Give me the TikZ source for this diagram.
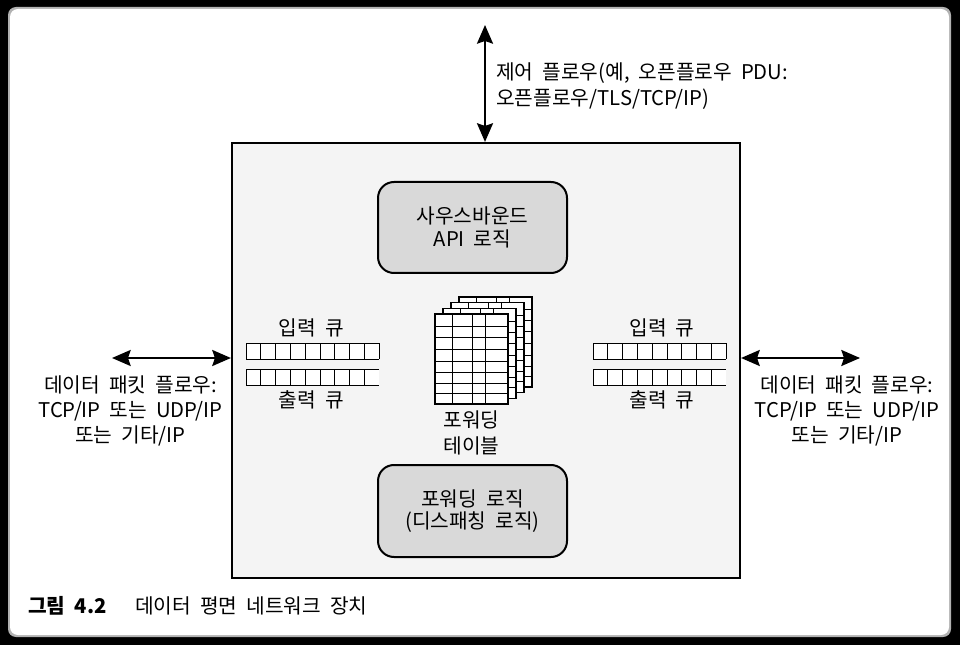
\documentclass[tikz,border=0pt]{standalone}
\usepackage{fontspec}
\setmainfont[WordSpace=2.0]{Noto Sans CJK KR}
\usetikzlibrary{arrows.meta,calc}
\definecolor{boxgray}{HTML}{D9D9D9}
\definecolor{panelgray}{HTML}{F4F4F4}
\begin{document}
\begin{tikzpicture}[x=0.75pt,y=-0.75pt,
  txt/.style={font=\fontsize{15.2}{19}\selectfont, align=center, inner sep=0pt},
  logicbox/.style={draw=black, line width=1.5pt, fill=boxgray, rounded corners=12pt,
     minimum width=141.75pt, txt, font=\fontsize{15.2}{17}\selectfont},
  flow/.style={{Stealth[length=14pt,width=12pt,inset=2pt]}-{Stealth[length=14pt,width=12pt,inset=2pt]}, line width=1.6pt},
  grid/.style={draw=black, line width=0.7pt}
]
% background / panel
\fill[black] (0,0) rectangle (960,645);
\fill[white!70!black, rounded corners=6pt] (8,7) rectangle (951,637);
\fill[white, rounded corners=6pt] (10,9) rectangle (949,635);
\useasboundingbox (0,0) rectangle (960,645);

% main device box
\node (main) [draw=black, line width=1.6pt, fill=panelgray, minimum width=381pt, minimum height=326.25pt, inner sep=0pt] at (486,360.5) {};

% logic boxes
\node (api) [logicbox, minimum height=68.25pt] at (472.5,227.5) {사우스바운드\\API 로직};
\node (fwd) [logicbox, minimum height=69pt] at (472.5,511) {포워딩 로직\\(디스패칭 로직)};

% queues
\newcommand{\qrow}[4]{% x0, y0, closed(1/0), name
  \fill[white] (#1,#2) rectangle (#1+133.2,#2+16);
  \foreach \i in {0,...,8} {
    \pgfmathsetmacro{\xa}{#1+\i*14.8}
    \pgfmathsetmacro{\xb}{#1+(\i+1)*14.8}
    \draw[line width=0.6pt] (\xa,#2) -- (\xb,#2);
    \draw[line width=0.6pt] (\xa,#2+16) -- (\xb,#2+16);
    \draw[line width=0.6pt] (\xa,#2) -- (\xa,#2+16);
  }
  \ifnum#3=1 \draw[line width=0.6pt] (#1+133.2,#2) -- (#1+133.2,#2+16);\fi
  \coordinate (#4) at (#1+66.6,#2+8);
}
\qrow{246}{343}{1}{lin}
\qrow{246}{369}{0}{lout}
\qrow{593}{343}{1}{rin}
\qrow{593}{369}{0}{rout}

\node (linl) [txt] at (311.5,328) {입력 큐};
\node (loutl) [txt] at (311.5,400) {출력 큐};
\node (rinl) [txt] at (662,328) {입력 큐};
\node (routl) [txt] at (662,400) {출력 큐};

% forwarding table stack
\foreach \k in {3,2,1,0} {
  \begin{scope}[shift={(8*\k,-5.7*\k)}]
    \fill[white] (435,314) rectangle (508,404);
    \foreach \xx in {452.3,472.7,485.3} \draw[grid] (\xx,314) -- (\xx,404);
    \foreach \yy in {326.7,337.7,349,361,372.3,383.3,393.3} \draw[grid] (435,\yy) -- (508,\yy);
    \draw[line width=1pt] (435,314) rectangle (508,404);
  \end{scope}
}
\coordinate (tbl) at (471.5,404);
\node (tbll) [txt, font=\fontsize{15.2}{19.5}\selectfont, anchor=north] at ($(tbl)+(0,6)$) {포워딩\\테이블};

% control flow arrow (top)
\coordinate (ctop) at (485,25);
\draw[flow] (ctop) -- (ctop |- main.north);
\node (ctrl) [txt, align=left, anchor=west] at (496,86) {제어 플로우(예, 오픈플로우 PDU:\\오픈플로우/TLS/TCP/IP)};

% data flow arrows
\coordinate (lfree) at (112,358);
\coordinate (rfree) at (860,358);
\draw[flow] (lfree) -- (lfree -| main.west);
\draw[flow] (rfree -| main.east) -- (rfree);
\node (ldata) [txt] at (130.5,411) {데이터 패킷 플로우:\\TCP/IP 또는 UDP/IP\\또는 기타/IP};
\node (rdata) [txt] at (847,411) {데이터 패킷 플로우:\\TCP/IP 또는 UDP/IP\\또는 기타/IP};

% caption
\node (capa) [txt, font=\fontsize{15.2}{17}\selectfont\bfseries, anchor=west] at (28,606) {그림 4.2};
\node (capb) [txt, anchor=west] at (135,606) {데이터 평면 네트워크 장치};
\end{tikzpicture}
\end{document}
